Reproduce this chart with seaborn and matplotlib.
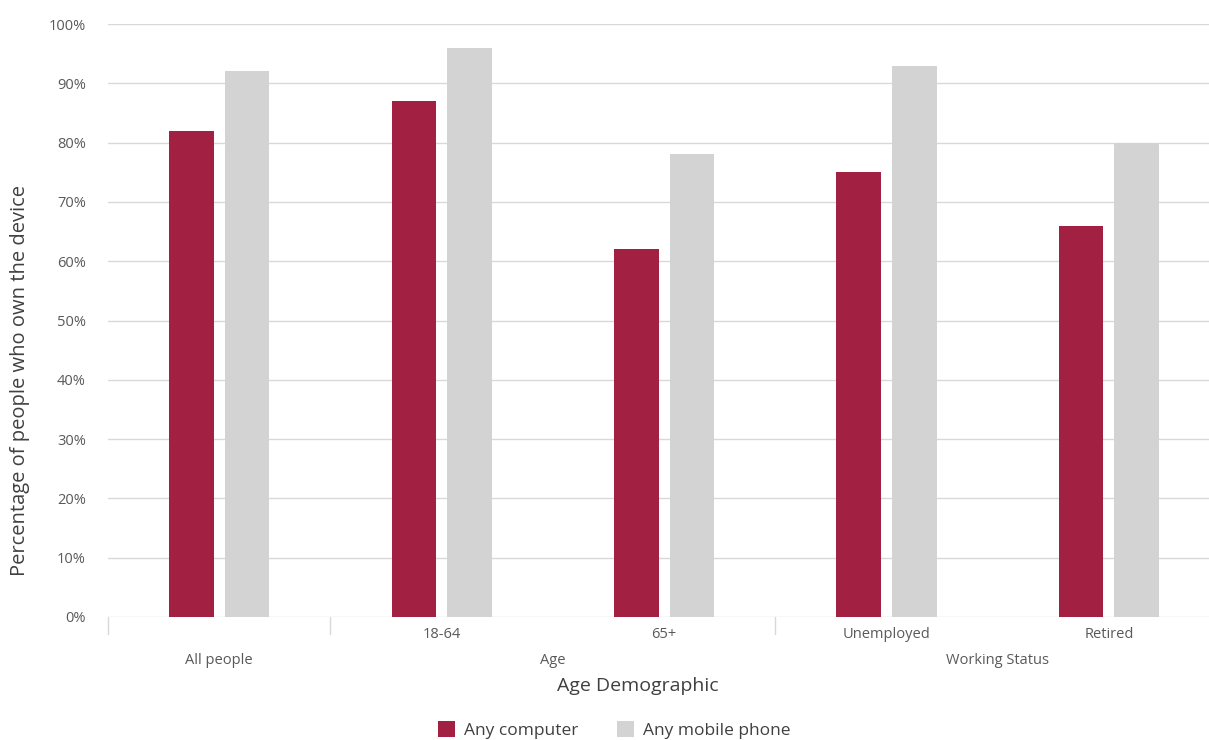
import matplotlib
matplotlib.use("Agg")
import matplotlib.pyplot as plt
import matplotlib.transforms as mtransforms
import seaborn as sns
import pandas as pd
from matplotlib.ticker import FuncFormatter, MultipleLocator

# Ownership by demographic
categories = ["All people", "18-64", "65+", "Unemployed", "Retired"]
tick_labels = ["", "18-64", "65+", "Unemployed", "Retired"]
group_labels = ["All people", "Age", "Working Status"]
group_centers = [0, 1.5, 3.5]
group_edges = [-0.5, 0.5, 2.5]
computer = [82, 87, 62, 75, 66]
mobile = [92, 96, 78, 93, 80]
series = ["Any computer", "Any mobile phone"]

df = pd.DataFrame({
    "Demographic": categories * 2,
    "Device": [series[0]] * len(categories) + [series[1]] * len(categories),
    "Share": computer + mobile,
})

sns.set_theme(style="white")
plt.rcParams["font.family"] = ["Open Sans", "DejaVu Sans"]

text_grey = "#595959"
grid_grey = "#d9d9d9"
palette = {series[0]: "#a22142", series[1]: "#d3d3d3"}

fig = plt.figure(figsize=(12.09, 7.40), dpi=100)
ax = fig.add_axes([108 / 1209, 123 / 740, 1 - 108 / 1209, 593 / 740])

sns.barplot(data=df, x="Demographic", y="Share", hue="Device", order=categories,
            hue_order=series, palette=palette, width=0.5, gap=0.2,
            saturation=1, linewidth=0, ax=ax, legend=True)

ax.set_xlim(-0.5, 4.45)
ax.set_ylim(0, 100)
ax.yaxis.set_major_locator(MultipleLocator(10))
ax.yaxis.set_major_formatter(FuncFormatter(lambda v, p: f"{v:.0f}%"))
ax.yaxis.grid(True, color=grid_grey, linewidth=1)
ax.set_axisbelow(True)
for s in ax.spines.values():
    s.set_visible(False)

ax.set_xticks(range(len(categories)))
ax.set_xticklabels(tick_labels)
ax.tick_params(axis="x", length=0, pad=7, labelsize=10.5, labelcolor=text_grey)
ax.tick_params(axis="y", length=0, pad=16, labelsize=10.5, labelcolor=text_grey)
ax.set_xlabel("")
ax.set_ylabel("")

# Category dividers below the baseline
trans = mtransforms.blended_transform_factory(ax.transData, ax.transAxes)
for xe in group_edges:
    ax.plot([xe, xe], [0, -17 / 593], transform=trans, color=grid_grey,
            linewidth=1, clip_on=False)

# Second-level group labels
for lbl, xc in zip(group_labels, group_centers):
    ax.annotate(lbl, xy=(xc, 0), xycoords=trans, xytext=(0, -31),
                textcoords="offset points", ha="center", va="center",
                fontsize=10.5, color=text_grey)

fig.text(638 / 1209, 1 - 686 / 740, "Age Demographic", ha="center", va="center",
         fontsize=14, color="#404040")
fig.text(20 / 1209, 1 - 380 / 740, "Percentage of people who own the device",
         rotation=90, ha="center", va="center", fontsize=14.5, color="#404040")

handles, labels = ax.get_legend_handles_labels()
ax.get_legend().remove()
fig.legend(handles, labels, loc="center", bbox_to_anchor=(614 / 1209, 1 - 730 / 740),
           ncol=2, frameon=False, fontsize=12.5, handlelength=1.0, handleheight=1.0,
           handletextpad=0.5, columnspacing=2.2, labelcolor="#404040")

fig.savefig("out.png", dpi=100)
